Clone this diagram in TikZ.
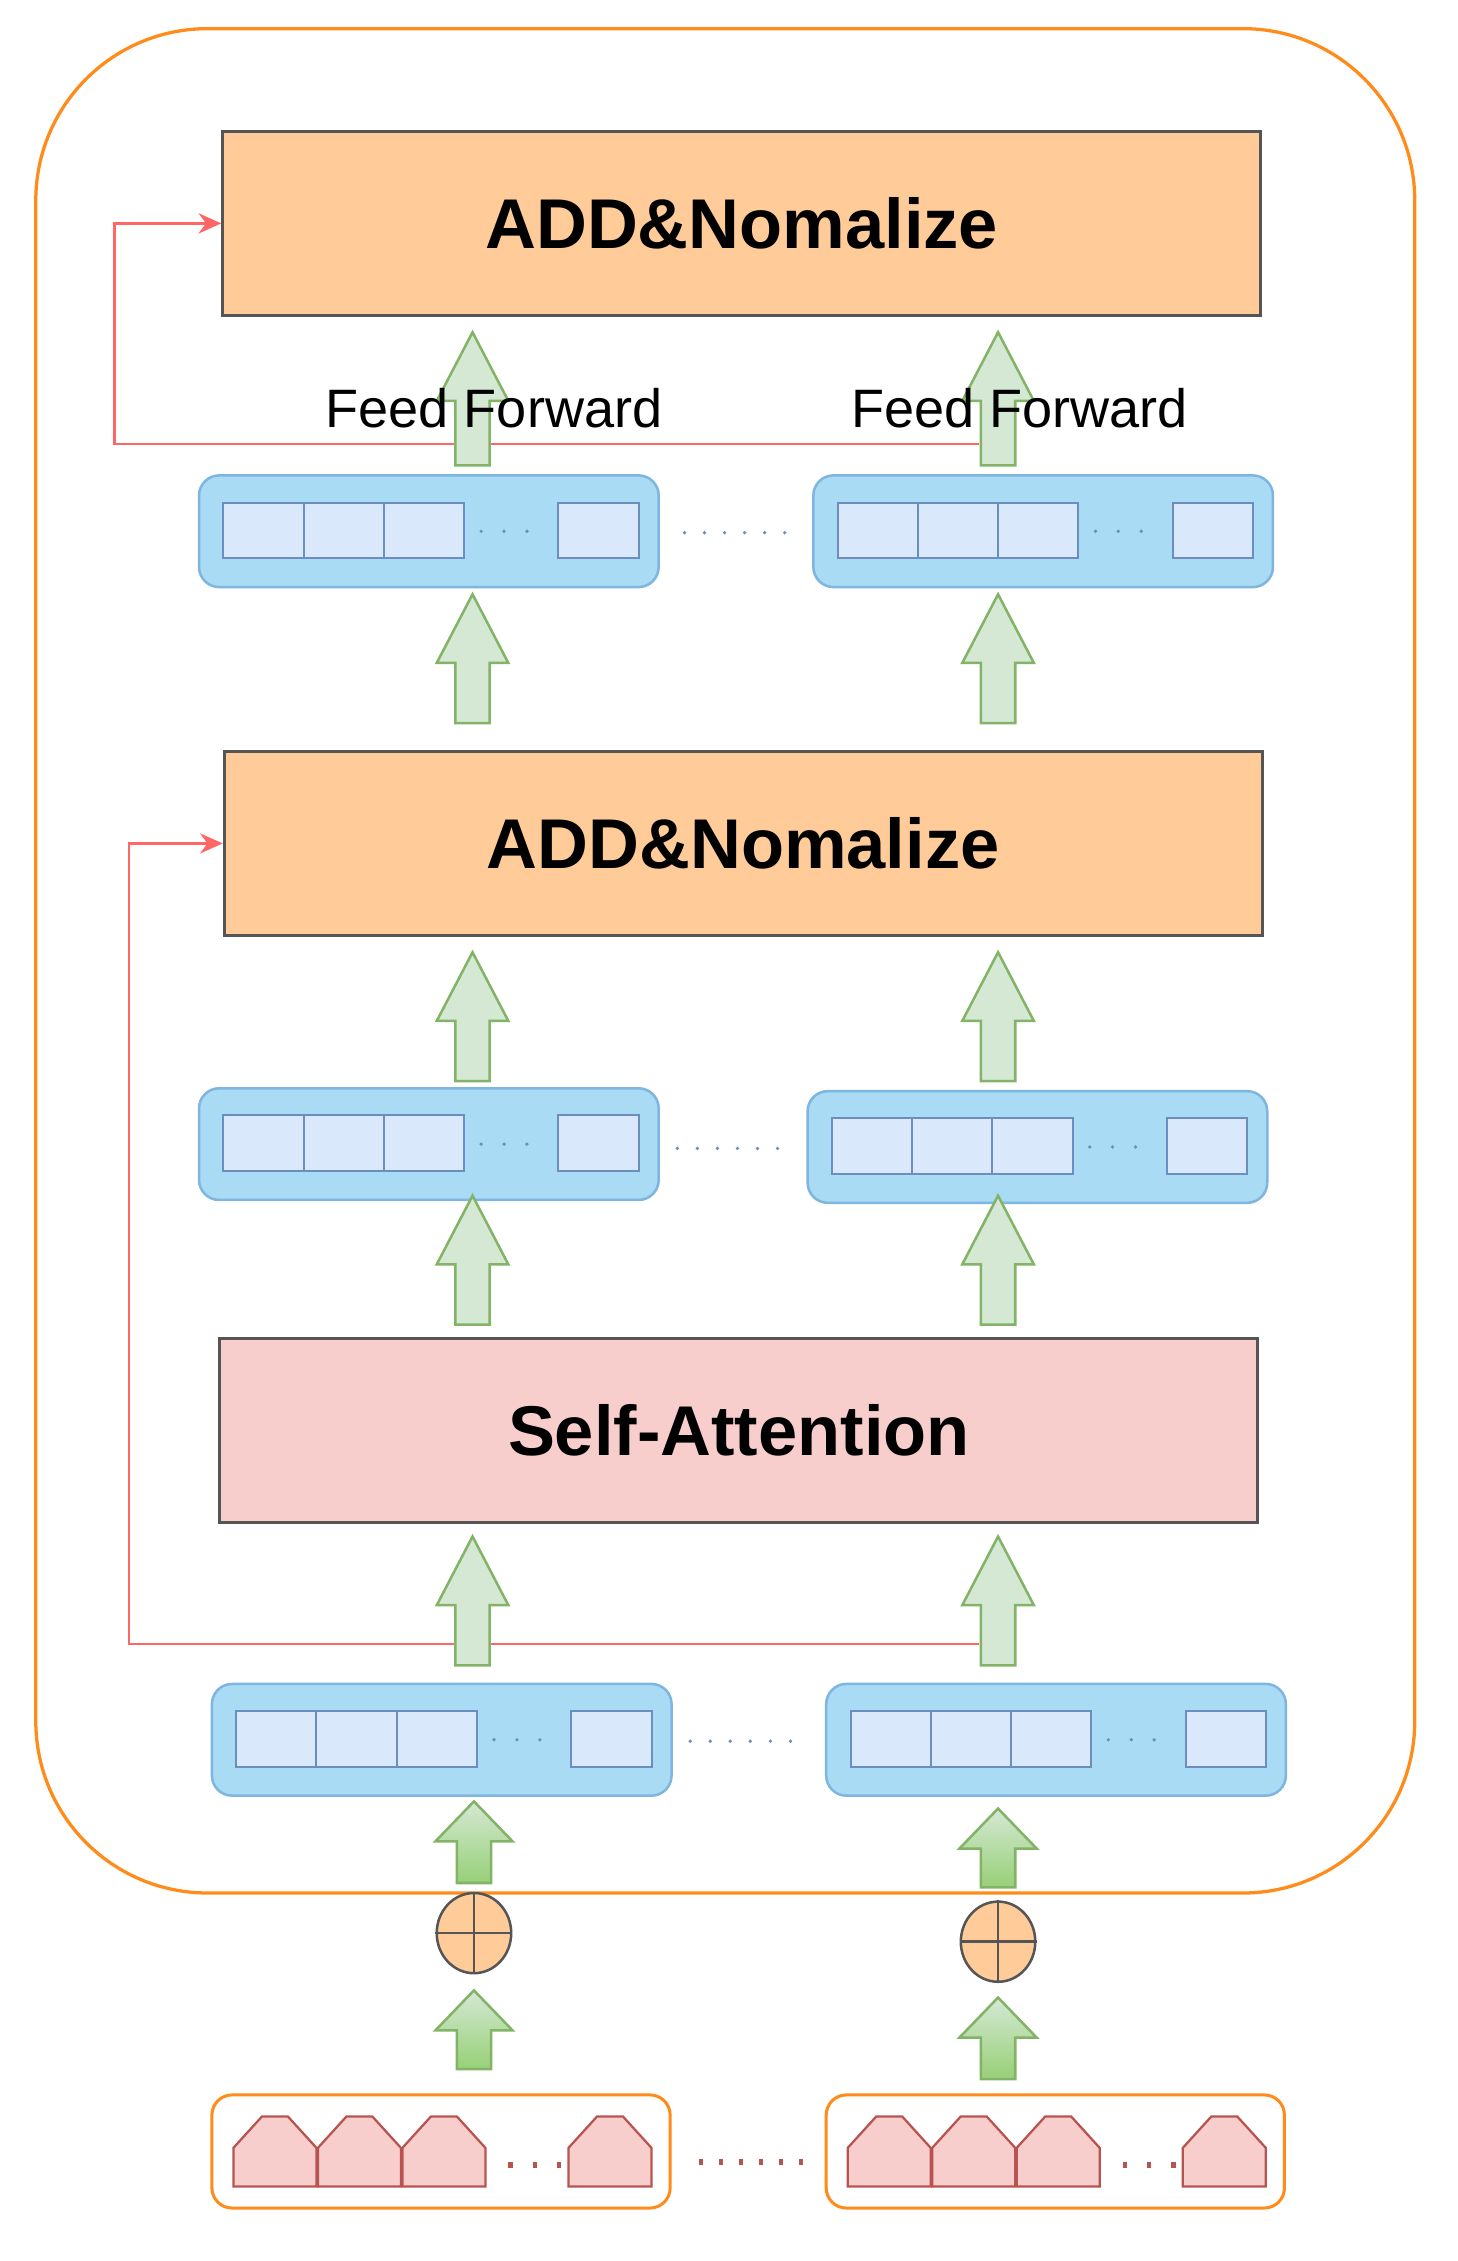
\documentclass[tikz,border=0pt]{standalone}
\usepackage{fontspec}
\setmainfont{Liberation Sans}
\usetikzlibrary{positioning,shapes.geometric,arrows.meta}
\definecolor{boxorange}{HTML}{FFCC99}
\definecolor{linegray}{HTML}{555555}
\definecolor{attpink}{HTML}{F8CECC}
\definecolor{vecblue}{HTML}{A9DBF5}
\definecolor{vecline}{HTML}{7EB6E0}
\definecolor{cellfill}{HTML}{DAE8FC}
\definecolor{cellline}{HTML}{6C8EBF}
\definecolor{outerorange}{HTML}{FF8C1A}
\definecolor{houseline}{HTML}{B85450}
\definecolor{arrowgreen}{HTML}{82B366}
\definecolor{lightgreen}{HTML}{D5E8D4}
\definecolor{darkgreen}{HTML}{97D077}
\definecolor{skipred}{HTML}{FF6666}
\tikzset{
  layer/.style={draw=linegray, line width=1.2pt, minimum width=14.5cm, minimum height=2.56cm, font=\fontsize{28}{32}\selectfont\bfseries, inner sep=0pt},
  block/.style={draw=vecline, fill=vecblue, rounded corners=8pt, line width=1pt},
  cell/.style={draw=cellline, fill=cellfill, line width=0.8pt},
  house/.style={draw=houseline, fill=attpink, line width=0.9pt},
  greenup/.style={draw=arrowgreen, fill=lightgreen, line width=1pt},
  greenshade/.style={draw=arrowgreen, top color=lightgreen, bottom color=darkgreen, line width=1pt},
  skip/.style={draw=skipred, line width=1pt, -{Stealth[length=9pt,width=8pt]}},
  label/.style={font=\fontsize{21.5}{24}\selectfont, inner sep=0pt},
}
% block arrow: x, top, bottom, head length, head half width
\newcommand{\blockarrow}[6]{%
  \draw[#6] (#1-12,#3) -- (#1-12,#2+#4) -- (#1-#5,#2+#4) -- (#1,#2) -- (#1+#5,#2+#4) -- (#1+12,#2+#4) -- (#1+12,#3) -- cycle;}
% vector of cells, top left at (x,y)
\newcommand{\vecblock}[3]{%
  \draw[block] (#1,#2) rectangle (#1+321,#2+78);
  \foreach \dx in {17,73,129,251} \draw[cell] (#1+\dx,#2+19) rectangle (#1+\dx+56,#2+58);
  \foreach \dx in {197,213,229} \fill[cellline] (#1+\dx,#2+39) circle (1.3);
  \node (#3) at (#1+160,#2+39) {};}
% input embeddings, top left at (x,y)
\newcommand{\housebox}[3]{%
  \draw[outerorange, line width=1.2pt, rounded corners=8pt] (#1,#2) rectangle (#1+320,#2+79);
  \foreach \dx in {15,74,133,249}
    \draw[house] (#1+\dx,#2+64) -- (#1+\dx,#2+37) -- (#1+\dx+20,#2+15) -- (#1+\dx+38,#2+15) -- (#1+\dx+58,#2+37) -- (#1+\dx+58,#2+64) -- cycle;
  \foreach \dx in {207,224,241} \fill[houseline] (#1+\dx,#2+47) rectangle (#1+\dx+3,#2+51);
  \node (#3) at (#1+160,#2+40) {};}
\begin{document}
\begin{tikzpicture}[x=0.02cm, y=-0.02cm]
  \useasboundingbox (0,0) rectangle (1018,1579);
  \draw[outerorange, line width=1.3pt, rounded corners=120*0.02cm] (25,20) rectangle (988,1322);

  \node[layer, fill=boxorange] (add1) at (518,156) {ADD\&Nomalize};
  \node[layer, fill=boxorange] (add2) at (519,589) {ADD\&Nomalize};
  \node[layer, fill=attpink] (att) at (516,999) {Self-Attention};

  \vecblock{139}{332}{v1l} \vecblock{568}{332}{v1r}
  \vecblock{139}{760}{v2l} \vecblock{564}{762}{v2r}
  \vecblock{148}{1176}{v3l} \vecblock{577}{1176}{v3r}
  \foreach \x/\y in {478/372, 473/802, 482/1216}
    \foreach \d in {0,14,...,70} \fill[cellline] (\x+\d,\y) circle (1.3);

  % residual connections
  \coordinate (r1) at (684,310);
  \coordinate (r2) at (684,1148);
  \draw[skip] (r1) -- (80,310) |- (add1.west);
  \draw[skip] (r2) -- (90,1148) |- (add2.west);

  % green arrows
  \foreach \x in {330,697} {
    \blockarrow{\x}{232}{325}{48}{25}{greenup}
    \blockarrow{\x}{415}{505}{48}{25}{greenup}
    \blockarrow{\x}{665}{755}{48}{25}{greenup}
    \blockarrow{\x}{835}{925}{48}{25}{greenup}
    \blockarrow{\x}{1073}{1163}{48}{25}{greenup}
  }
  \blockarrow{331}{1258}{1315}{28}{27}{greenshade}
  \blockarrow{331}{1390}{1445}{28}{27}{greenshade}
  \blockarrow{697}{1263}{1318}{28}{27}{greenshade}
  \blockarrow{697}{1395}{1452}{28}{27}{greenshade}

  \node[label] (ff1) at (345,285) {Feed Forward};
  \node[label] (ff2) at (712,285) {Feed Forward};

  % positional sum
  \foreach \n/\x/\y in {p1/331/1350, p2/697/1356} {
    \node[draw=linegray, fill=boxorange, ellipse, line width=1pt, minimum width=52*0.02cm, minimum height=56*0.02cm, inner sep=0pt] (\n) at (\x,\y) {};
    \draw[linegray, line width=1pt] (\n.north) -- (\n.south) (\n.west) -- (\n.east);
  }

  \housebox{148}{1463}{in1} \housebox{577}{1463}{in2}
  \foreach \d in {0,14,...,70} \fill[houseline] (488+\d,1508) rectangle (491+\d,1512);
\end{tikzpicture}
\end{document}
